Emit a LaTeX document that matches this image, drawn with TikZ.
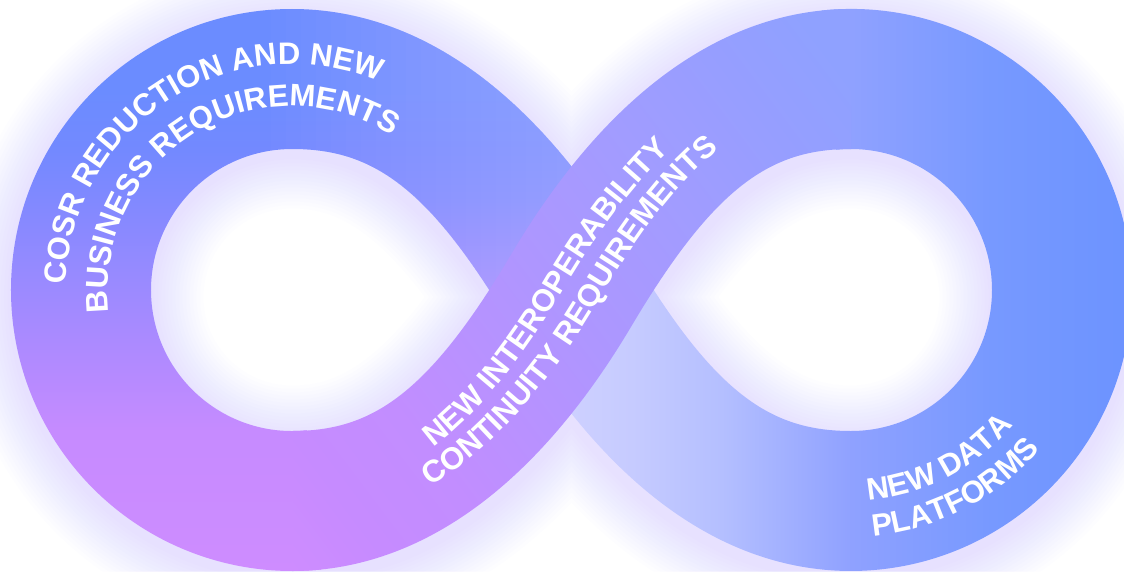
\documentclass[tikz,border=0pt]{standalone}
\usepackage{fontspec}
\setmainfont{Liberation Sans}
\usetikzlibrary{decorations.text}

\definecolor{glowc}{HTML}{BBAEFF}
\definecolor{lA}{HTML}{CE8CFF}
\definecolor{lB}{HTML}{C68BFF}
\definecolor{lB2}{HTML}{AE8AFF}
\definecolor{lC}{HTML}{9C8AFF}
\definecolor{lD}{HTML}{8189FF}
\definecolor{lE}{HTML}{7389FF}
\definecolor{lF}{HTML}{6B8CFF}
\definecolor{rA}{HTML}{CDD0FF}
\definecolor{rB}{HTML}{C6CBFF}
\definecolor{rC}{HTML}{B4BFFF}
\definecolor{rD}{HTML}{8FA1FF}
\definecolor{rE}{HTML}{7799FF}
\definecolor{rF}{HTML}{6C93FF}
\definecolor{fA}{HTML}{CE8CFF}
\definecolor{fA2}{HTML}{C68BFF}
\definecolor{fB}{HTML}{C28DFF}
\definecolor{fC}{HTML}{AE96FF}
\definecolor{fD}{HTML}{A19CFF}
\definecolor{fE}{HTML}{969EFF}
\definecolor{fF}{HTML}{8FA1FF}

\pgfdeclareverticalshading{leftsh}{100bp}{color(0bp)=(lA); color(25.8bp)=(lA); color(37.8bp)=(lB); color(44.7bp)=(lB2); color(49.9bp)=(lC); color(57.6bp)=(lD); color(61.9bp)=(lE); color(67bp)=(lF); color(100bp)=(lF)}
\pgfdeclarehorizontalshading{rightsh}{100bp}{color(0bp)=(rA); color(25bp)=(rA); color(30.4bp)=(rB); color(38.4bp)=(rC); color(50bp)=(rD); color(62.5bp)=(rE); color(75bp)=(rF); color(100bp)=(rF)}
\pgfdeclarehorizontalshading{frontsh}{100bp}{color(0bp)=(fA); color(24.2bp)=(fA); color(29.7bp)=(fA2); color(36bp)=(fB); color(49bp)=(fC); color(59bp)=(fD); color(67bp)=(fE); color(73bp)=(fF); color(100bp)=(fF)}

% centre line of the whole band (for the glow)
\def\figpath{(490.5,0) arc[start angle=0, end angle=-90, radius=211]
  .. controls (179.5,-211) and (92,-155) .. (0,0)
  .. controls (-92,155) and (-179.5,211) .. (-279.5,211)
  arc[start angle=90, end angle=270, radius=211]
  .. controls (-179.5,-211) and (-92,-155) .. (0,0)
  .. controls (92,155) and (179.5,211) .. (279.5,211)
  arc[start angle=90, end angle=0, radius=211] -- cycle}
% left loop (back)
\def\lpath{(60.2,35.7) .. controls (-40.3,205.1) and (-159,281) .. (-279.5,281)
  arc[start angle=90, end angle=276, radius=281] -- ++(96:140)
  arc[start angle=276, end angle=90, radius=141]
  .. controls (-200,141) and (-143.7,104.9) .. (-60.2,-35.7) -- cycle}
% right loop (back)
\def\rpath{(250.1,279.5) arc[start angle=96, end angle=-90, radius=281]
  .. controls (159,-281) and (40.3,-205.1) .. (-60.2,-35.7) -- (60.2,35.7)
  .. controls (143.7,-104.9) and (200,-141) .. (279.5,-141)
  arc[start angle=-90, end angle=96, radius=141] -- cycle}
% front band
\def\fpath{(-279.5,-141) .. controls (-200,-141) and (-143.7,-104.9) .. (-60.2,35.7)
  .. controls (40.3,205.1) and (159,281) .. (279.5,281) -- (279.5,141)
  .. controls (200,141) and (143.7,104.9) .. (60.2,-35.7)
  .. controls (-40.3,-205.1) and (-159,-281) .. (-279.5,-281) -- cycle}

\def\lblf{\color{white}\bfseries\fontsize{31}{31}\selectfont}
\tikzset{
  lbl/.style 2 args={decorate, decoration={text along path,
      text align={center, #2}, text={|\lblf|#1}}},
}

\begin{document}
\begin{tikzpicture}[x=1pt, y=1pt]
\useasboundingbox (-571.5,-281) rectangle (552.5,290);
\fill[white] (-571.5,-281) rectangle (552.5,290);

% soft glow around the band
\begin{scope}[yshift=-7pt]
\foreach \k in {1,...,15}{
  \pgfmathsetmacro{\lw}{140+7*\k}
  \draw[glowc, opacity=0.021, line width=\lw pt] \figpath;
}
\end{scope}

% left loop
\begin{scope}
  \clip \lpath;
  \shade[shading=leftsh] (-580,-290) rectangle (0,292);
  \foreach \k in {1,...,20}{
    \fill[white, opacity=0.015] (-15*\k,0) rectangle (0,300);
  }
\end{scope}

% right loop
\begin{scope}
  \clip \rpath;
  \shade[shading=rightsh] (0,-290) rectangle (560,292);
\end{scope}

% front band
\begin{scope}
  \clip \fpath;
  \shade[shading=frontsh, shading angle=37] (-380,-380) rectangle (380,380);
\end{scope}

% labels
\path[lbl={COSR REDUCTION AND NEW}{left indent=0pt}] (-279.5,0) ++(193:226) arc[start angle=193, end angle=53, radius=226];
\path[lbl={BUSINESS REQUIREMENTS}{left indent=0pt}] (-279.5,0) ++(197:184) arc[start angle=197, end angle=47, radius=184];
\path[lbl={NEW INTEROPERABILITY}{right indent=50pt}] (-279.5,-204) .. controls (-179.5,-204) and (-98.0,-151.4) .. (-6.0,3.6) .. controls (86.0,158.6) and (179.5,218) .. (279.5,218);
\path[lbl={CONTINUITY REQUIREMENTS}{left indent=6pt}] (-279.5,-240) .. controls (-179.5,-240) and (-67.1,-169.8) .. (24.9,-14.8) .. controls (116.9,140.2) and (179.5,182) .. (279.5,182);
\path[lbl={NEW DATA}{left indent=0pt}] (279.5,0) ++(-102.5:211) arc[start angle=-102.5, end angle=-22.5, radius=211];
\path[lbl={PLATFORMS}{left indent=0pt}] (279.5,0) ++(-102.5:247) arc[start angle=-102.5, end angle=-22.5, radius=247];
\end{tikzpicture}
\end{document}
